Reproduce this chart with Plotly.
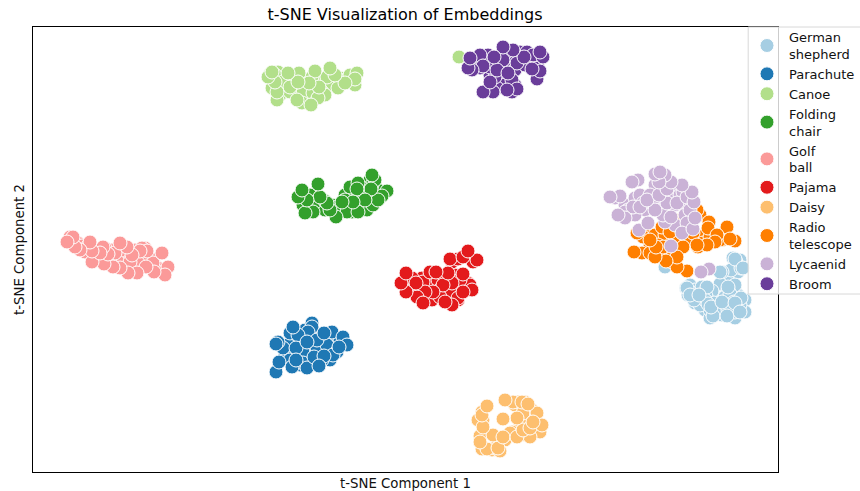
import plotly.graph_objects as go

german_x = [690,695,702,710,718,725,730,738,745,715,705,722,735,718,730,738,695,745,710,740,733,736,731,741,722,665,720,735,728,712,702,686,690,688,696,706,714,725,730,722,734,740,710,700,718,735,741,705,728,713,727,708,694,735,743,720,728,707,687,690,699,711,722,735,740]
german_y = [206,201,196,199,201,206,191,196,191,186,181,176,173,193,211,219,188,179,173,231,233,229,221,223,219,224,207,206,201,200,204,203,199,196,195,195,188,194,197,184,189,186,181,186,179,179,193,191,181,175,175,187,191,232,223,219,204,204,203,196,196,184,189,188,179]

parachute_x = [300,305,312,295,320,330,338,310,295,305,315,285,300,325,340,318,288,312,302,330,312,312,332,290,308,298,317,303,283,278,327,290,337,322,317,303,292,307,333,293,276,296,307,324,343,347,339,314,324,319,296,276,279]
parachute_y = [151,161,156,151,146,151,146,141,136,133,129,136,126,141,151,156,146,163,146,131,168,164,159,158,159,156,143,139,143,149,146,131,139,131,151,128,124,123,136,164,147,143,149,158,154,146,144,134,135,125,131,119,129]

canoe_x = [280,285,290,295,300,305,310,322,328,340,348,352,272,280,308,316,322,290,270,278,459,275,312,327,303,313,355,350,325,283,290,302,318,311,297,357,355,338,345,335,330,319,315,309,299,298,288,277,277,275,268,272]
canoe_y = [411,406,416,413,406,411,403,409,406,413,413,409,403,396,393,401,399,399,417,419,434,416,414,414,398,398,406,416,396,409,404,388,393,386,391,418,412,403,408,416,423,404,420,408,418,409,418,391,399,409,414,419]

folding_x = [303,308,315,322,332,342,350,355,360,368,374,378,370,372,345,340,303,312,325,352,362,337,310,367,315,363,350,345,347,358,373,375,372,387,382,378,325,358,371,357,365,353,342,336,330,313,305,327,320,307,298,318,302]
folding_y = [298,286,286,291,286,283,286,294,286,293,296,301,311,306,296,279,286,279,281,279,303,284,296,281,289,298,304,291,279,279,286,311,316,300,295,291,290,308,302,302,291,289,289,274,281,279,278,288,294,291,294,307,301]

golf_x = [78,82,88,95,100,107,112,122,128,133,142,150,155,158,140,125,118,110,135,145,105,70,155,145,142,85,97,115,153,138,130,168,165,154,146,137,128,120,113,104,92,162,147,140,132,127,120,108,103,100,92,90,80,75,73,67]
golf_y = [248,245,245,237,233,233,241,233,229,225,233,233,226,223,223,223,229,229,241,243,243,254,221,231,243,239,233,238,228,228,229,224,216,219,224,218,218,223,224,227,229,238,240,240,236,244,248,237,244,238,240,249,241,244,254,249]

pajama_x = [408,412,420,428,438,445,440,448,455,460,466,455,458,470,473,452,445,432,422,468,450,412,470,458,440,423,430,460,452,443,472,463,452,445,433,425,417,423,463,448,436,416,406,401,406,458,477,450,463,468]
pajama_y = [208,201,201,206,211,213,201,196,201,206,201,216,191,233,229,229,191,191,213,208,199,213,206,193,194,209,219,211,208,206,201,199,186,189,199,199,194,188,217,218,219,208,199,208,218,232,231,232,234,240]

daisy_x = [483,482,515,525,532,535,540,526,520,505,512,497,485,492,480,535,528,518,527,513,478,495,523,510,540,530,537,500,482,487,498,480,493,503,517,523,530,542,533,517,503,483,482,522,528,505,487]
daisy_y = [71,79,86,89,81,66,63,56,66,51,59,51,43,41,55,61,79,89,71,89,71,43,78,58,59,54,78,40,42,42,43,49,56,54,54,61,63,66,69,73,72,64,76,89,87,91,85]

radio_x = [645,655,665,672,682,690,697,705,712,722,660,668,672,650,690,700,680,658,725,698,720,642,660,688,675,650,703,710,687,663,643,680,662,670,693,697,709,708,727,735,730,717,715,707,697,683,687,677,677,666,655,656,650,637,634]
radio_y = [259,256,256,248,251,251,256,256,251,251,236,236,229,246,266,276,263,246,259,244,251,238,239,274,251,238,248,254,251,244,254,271,264,259,258,281,269,263,264,250,252,256,249,246,246,244,220,224,234,230,234,244,251,258,239]

lycaenid_x = [615,625,628,635,640,645,655,660,670,675,680,685,690,665,655,650,635,625,675,685,665,690,680,687,643,683,709,701,671,639,648,682,693,695,663,655,671,667,677,687,694,692,682,633,640,647,659,667,671,665,659,655,660,638,632,625,618,620,610]
lycaenid_y = [293,286,281,293,296,281,286,281,296,286,301,286,296,306,306,296,276,279,266,276,269,281,296,268,288,299,222,219,245,261,268,258,262,273,276,281,274,288,288,294,289,299,306,284,284,291,296,302,309,316,309,317,319,311,309,273,276,295,294]

broom_x = [478,485,492,498,505,512,520,530,538,505,515,490,500,505,515,535,525,480,497,512,495,505,527,490,503,517,533,512,517,507,493,483,490,497,508,537,540,532,543,540,524,513,503,488,494,480,483,472,468,470]
broom_y = [429,431,431,433,435,436,439,431,429,423,421,416,411,406,406,423,426,423,403,399,414,438,439,424,431,428,436,411,402,401,399,399,409,421,418,412,420,422,434,439,434,441,444,436,434,436,425,421,423,433]

series = [
    ("German<br>shepherd", "#a6cee3", german_x, german_y),
    ("Parachute", "#1f78b4", parachute_x, parachute_y),
    ("Canoe", "#b2df8a", canoe_x, canoe_y),
    ("Folding<br>chair", "#33a02c", folding_x, folding_y),
    ("Golf<br>ball", "#fb9a99", golf_x, golf_y),
    ("Pajama", "#e31a1c", pajama_x, pajama_y),
    ("Daisy", "#fdbf6f", daisy_x, daisy_y),
    ("Radio<br>telescope", "#ff7f00", radio_x, radio_y),
    ("Lycaenid", "#cab2d6", lycaenid_x, lycaenid_y),
    ("Broom", "#6a3d9a", broom_x, broom_y),
]

FONT = "DejaVu Sans"
fig = go.Figure()
for name, color, xs, ys in series:
    fig.add_trace(go.Scatter(
        x=xs, y=ys, mode="markers", name=name,
        marker=dict(size=14, color=color, line=dict(color="white", width=1)),
    ))

axis = dict(showticklabels=False, ticks="", showgrid=False, zeroline=False,
            showline=True, mirror=True, linecolor="black", linewidth=1, automargin=False)
fig.update_layout(
    width=860, height=491,
    margin=dict(l=33, r=82, t=27, b=19, pad=0, autoexpand=False),
    paper_bgcolor="white", plot_bgcolor="white",
    font=dict(family=FONT, color="#111111", size=13),
    title=dict(text="t-SNE Visualization of Embeddings", x=0.471, xanchor="center",
               y=0.9715, yanchor="middle", automargin=False,
               font=dict(size=16, color="black")),
    xaxis=dict(axis, range=[33, 778],
               title=dict(text="t-SNE Component 1", standoff=6, font=dict(size=13.3))),
    yaxis=dict(axis, range=[19, 464],
               title=dict(text="t-SNE Component 2", standoff=4, font=dict(size=13.3))),
    legend=dict(x=0.9557, y=1.011, xanchor="left", yanchor="top",
                bgcolor="rgba(0,0,0,0)", borderwidth=0, itemwidth=34,
                font=dict(size=13), tracegroupgap=0, maxheight=400),
    shapes=[dict(type="rect", xref="paper", yref="paper", layer="above",
                 x0=0.96, x1=1.12, y0=0.4, y1=1.0,
                 fillcolor="rgba(255,255,255,0.8)",
                 line=dict(color="#d8d8d8", width=1))],
    showlegend=True,
)
fig.write_html("out.html", config={"displayModeBar": False},
               post_script="document.body.style.margin='0';document.documentElement.style.overflow='hidden';")
